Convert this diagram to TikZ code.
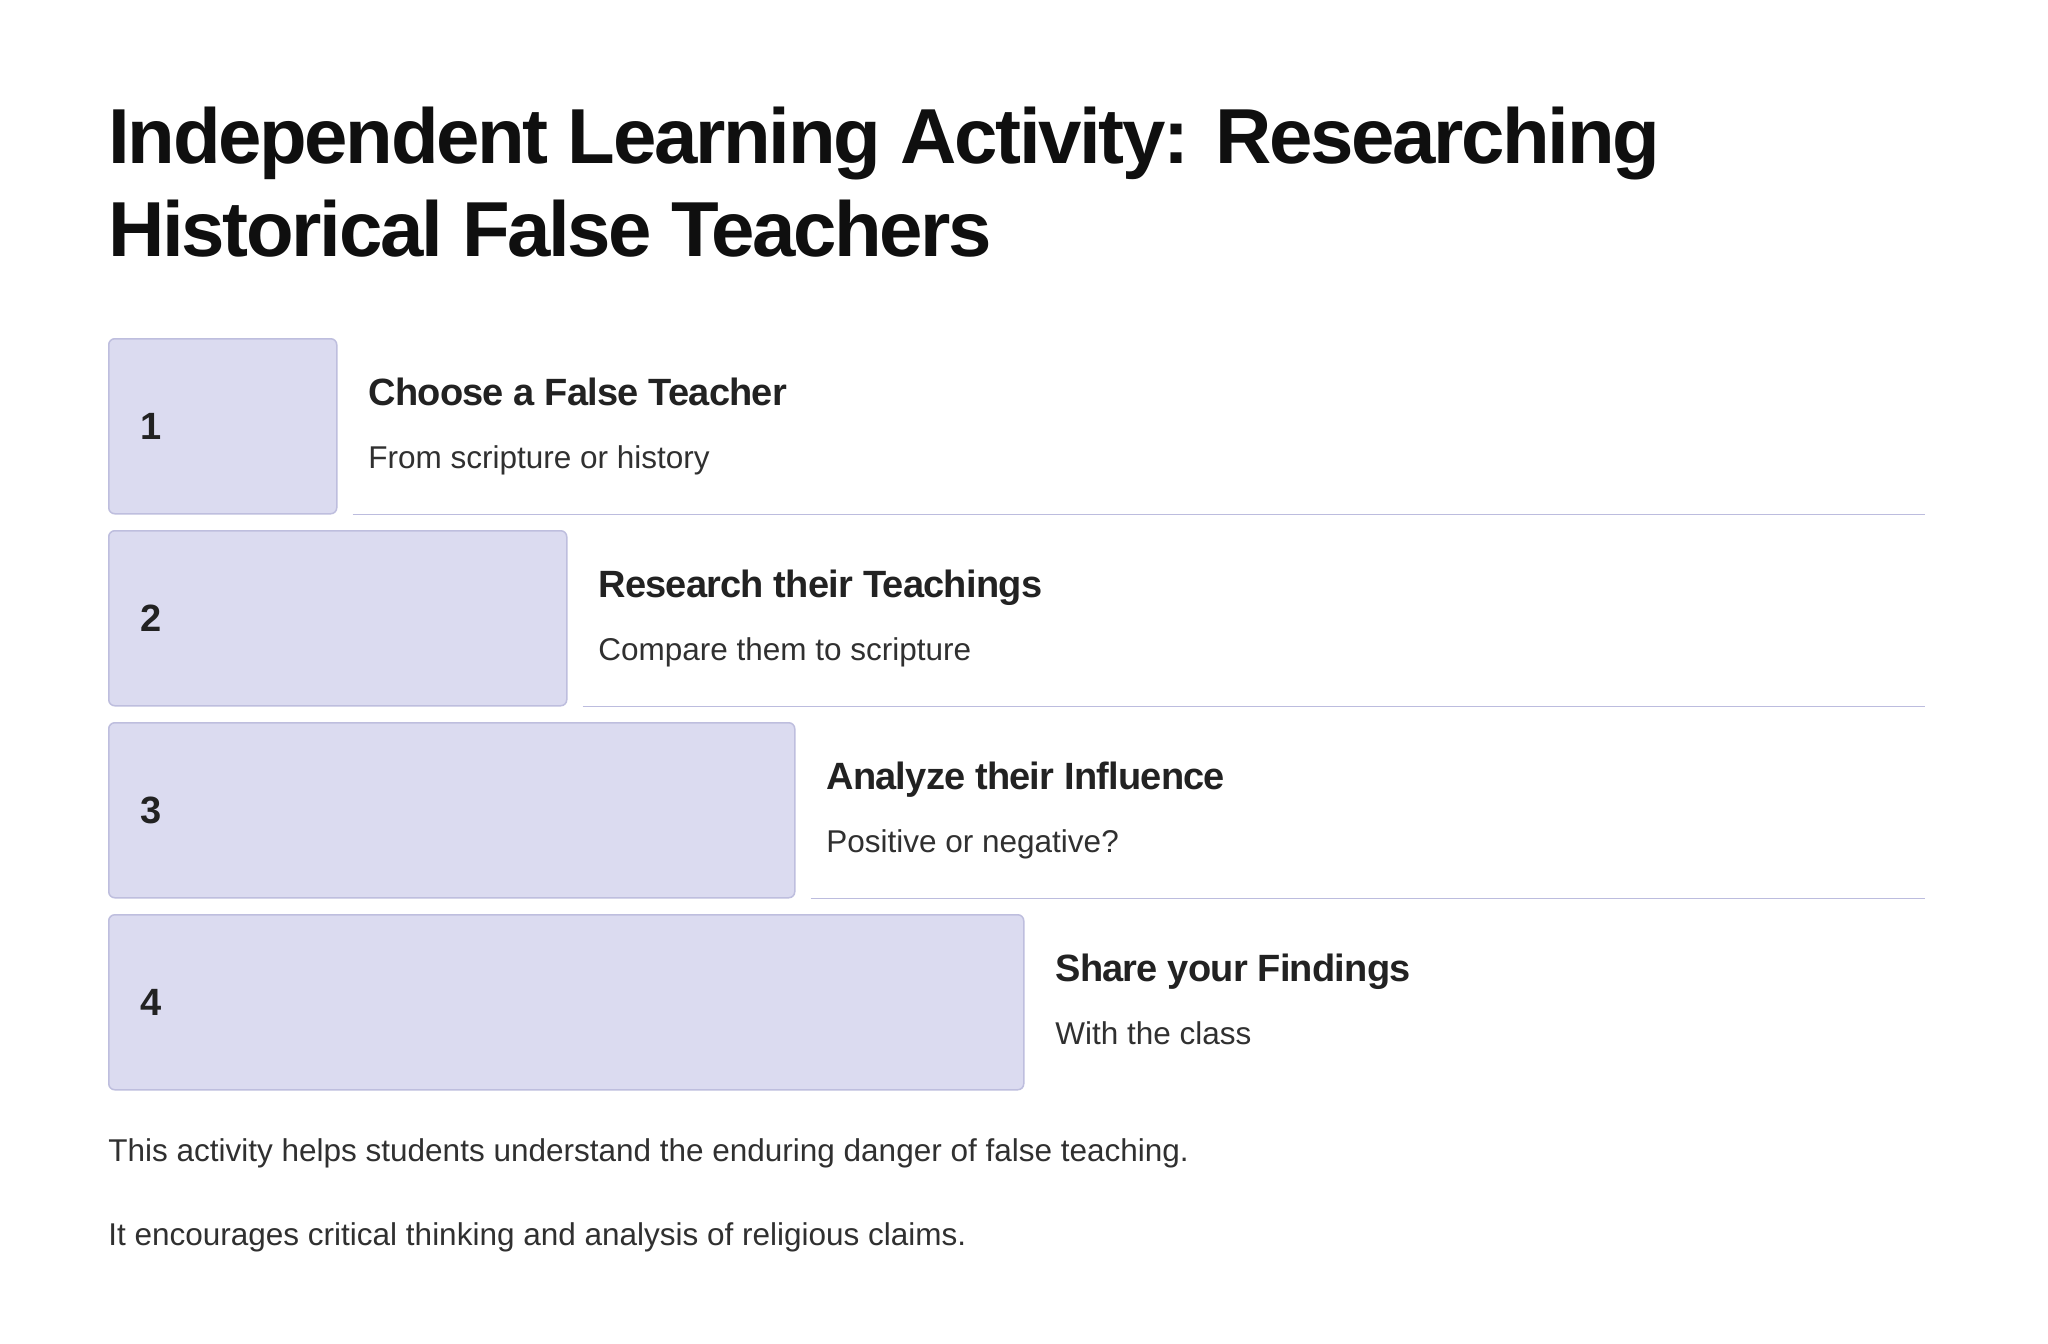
\documentclass[tikz,border=0pt]{standalone}
\usepackage{fontspec}
\setmainfont{Liberation Sans}
\newfontfamily\titlefont{Liberation Sans}[LetterSpace=-3]
\newfontfamily\headfont{Liberation Sans}[LetterSpace=-2]
\usepackage{tikz}
\usetikzlibrary{positioning}
\definecolor{boxfill}{RGB}{219,219,240}
\definecolor{boxline}{RGB}{190,190,222}
\definecolor{ruleline}{RGB}{188,188,222}
\definecolor{titleink}{RGB}{15,15,15}
\definecolor{headink}{RGB}{34,34,34}
\definecolor{bodyink}{RGB}{48,48,48}

\begin{document}
\begin{tikzpicture}[x=0.5pt, y=-0.5pt,
    stepbox/.style={draw=boxline, fill=boxfill, line width=0.75pt, rounded corners=3pt,
        minimum height=87.5pt, anchor=north west, inner sep=0pt},
    stepnum/.style={anchor=west, inner sep=0pt, text=headink, font=\headfont\bfseries\fontsize{19pt}{23pt}\selectfont},
    stephead/.style={anchor=base west, inner sep=0pt, text=headink, font=\headfont\bfseries\fontsize{19pt}{23pt}\selectfont},
    stepsub/.style={anchor=base west, inner sep=0pt, text=bodyink, font=\fontsize{15.75pt}{19pt}\selectfont},
    titletext/.style={anchor=base west, inner sep=0pt, text=titleink, font=\titlefont\bfseries\fontsize{39pt}{46.5pt}\selectfont},
    sepline/.style={draw=ruleline, line width=0.8pt}
]
\useasboundingbox[fill=white] (0,0) rectangle (2048,1343);

% title
\node[titletext] (title1) at (108,163) {Independent Learning Activity: Researching};
\node[titletext] (title2) at (108,256) {Historical False Teachers};

% steps
\node[stepbox, minimum width=114pt] (b1) at (108,338) {};
\node[stepbox, minimum width=229pt] (b2) at (108,530) {};
\node[stepbox, minimum width=343pt] (b3) at (108,722) {};
\node[stepbox, minimum width=457.5pt] (b4) at (108,914) {};

\node[stepnum] (n1) at (140,426.5) {1};
\node[stepnum] (n2) at (140,618.5) {2};
\node[stepnum] (n3) at (140,810.5) {3};
\node[stepnum] (n4) at (140,1002.5) {4};

\node[stephead] (h1) at (368,405) {Choose a False Teacher};
\node[stepsub] (s1) at (368,468) {From scripture or history};
\node[stephead] (h2) at (598,597) {Research their Teachings};
\node[stepsub] (s2) at (598,660) {Compare them to scripture};
\node[stephead] (h3) at (826,789) {Analyze their Influence};
\node[stepsub] (s3) at (826,852) {Positive or negative?};
\node[stephead] (h4) at (1055,981) {Share your Findings};
\node[stepsub] (s4) at (1055,1044) {With the class};

\coordinate (rend) at (1925,0);
\draw[sepline] ([xshift=7.5pt]b1.south east) -- (b1.south east -| rend);
\draw[sepline] ([xshift=7.5pt]b2.south east) -- (b2.south east -| rend);
\draw[sepline] ([xshift=7.5pt]b3.south east) -- (b3.south east -| rend);

% closing notes
\node[stepsub] (note1) at (108,1161) {This activity helps students understand the enduring danger of false teaching.};
\node[stepsub] (note2) at (108,1245) {It encourages critical thinking and analysis of religious claims.};
\end{tikzpicture}
\end{document}
